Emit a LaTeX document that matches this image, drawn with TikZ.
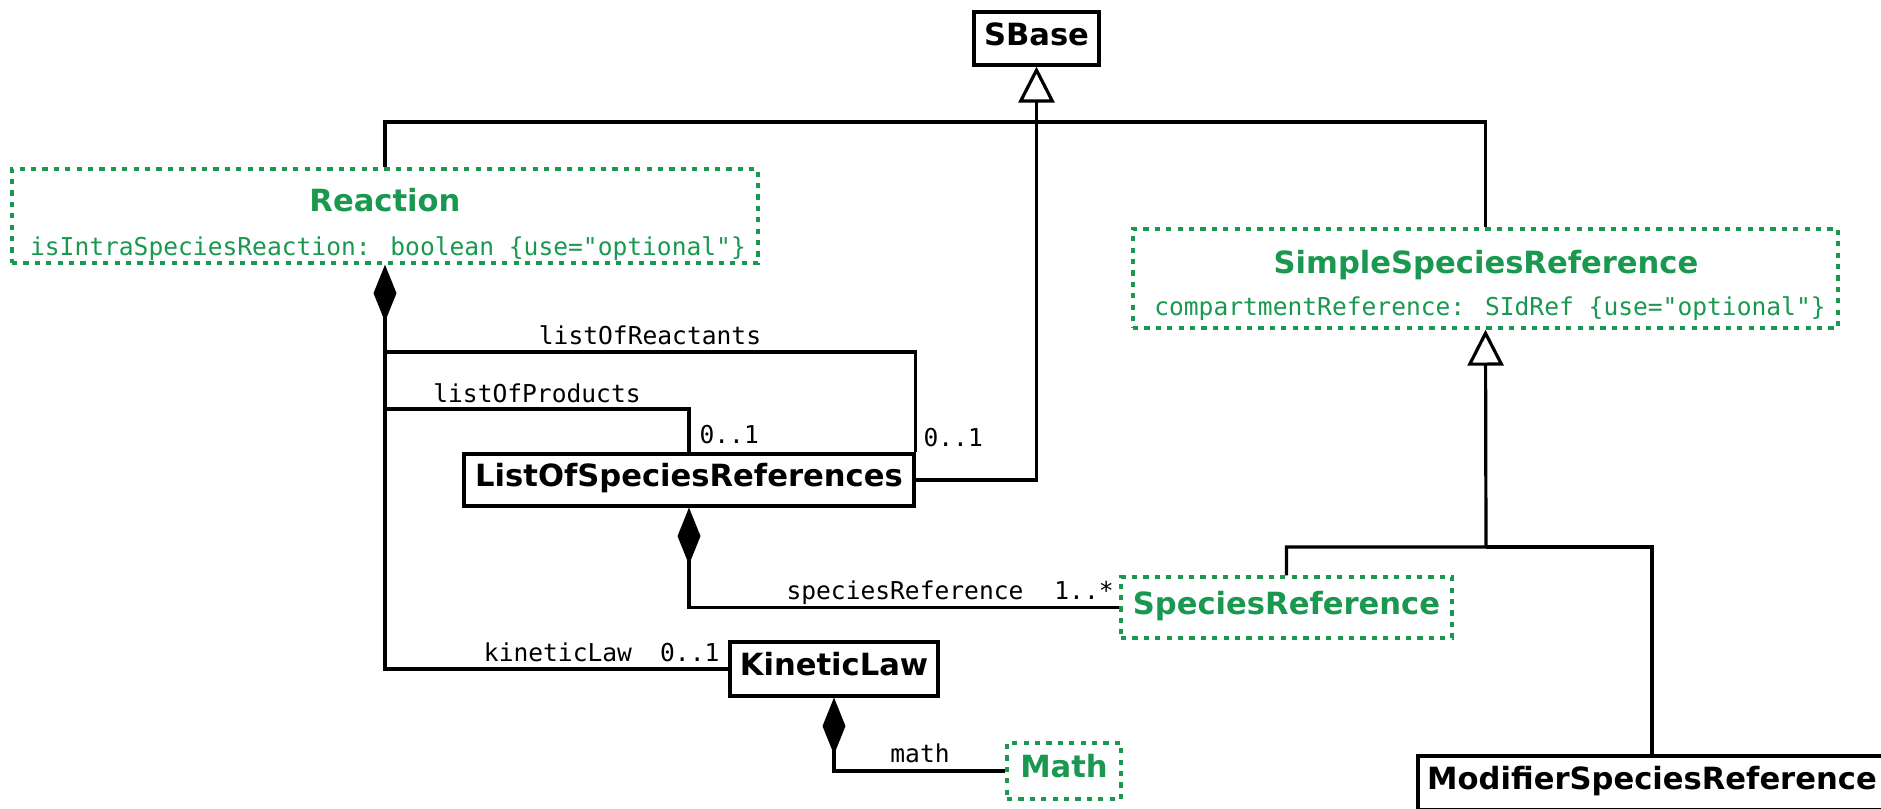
\documentclass[tikz,border=0pt]{standalone}
\usepackage{fontspec}
\setmainfont{DejaVu Sans}
\newfontfamily\umlmono{DejaVu Sans Mono}[Ligatures=TeXOff]
\usetikzlibrary{arrows.meta}
\definecolor{sbmlgreen}{RGB}{26,152,80}
\begin{document}
\begin{tikzpicture}[x=0.5pt,y=-0.5pt,
  line width=1.6pt,
  box/.style={draw=black, line width=1.6pt, fill=white, inner sep=0pt,
    font=\fontsize{15.3pt}{18pt}\selectfont\bfseries, text height=0.65em, text depth=0pt},
  gbox/.style={box, draw=sbmlgreen, text=sbmlgreen, line width=1.7pt, dash pattern=on 2.6pt off 3.1pt},
  ctitle/.style={anchor=base, inner sep=0pt, text=sbmlgreen,
    font=\fontsize{15.3pt}{18pt}\selectfont\bfseries},
  cattr/.style={anchor=base, inner sep=0pt, text=sbmlgreen,
    font=\umlmono\fontsize{12.3pt}{14pt}\selectfont},
  rolelbl/.style={anchor=base, inner sep=0pt, font=\umlmono\fontsize{12.3pt}{14pt}\selectfont},
  gen/.style={-{Triangle[open, length=18pt, width=18pt, fill=white]}},
  comp/.style={{Diamond[length=28.5pt, width=11.5pt]}-},
]
\fill[white] (0,0) rectangle (1881,809);
\useasboundingbox (0,0) rectangle (1881,809);

% classes
\node[box, minimum width=62.5pt, minimum height=26.5pt] (sbase) at (1036.5,38.5) {SBase};

\node[gbox, minimum width=373pt, minimum height=47pt] (reaction) at (385,216) {};
\node[ctitle] (reactionname) at (385,211) {Reaction};
\node[cattr] (reactionattr) at (388,255) {isIntraSpeciesReaction: boolean \{use="optional"\}};

\node[gbox, minimum width=352.5pt, minimum height=49.5pt] (ssr) at (1485.5,278.5) {};
\node[ctitle] (ssrname) at (1486,273) {SimpleSpeciesReference};
\node[cattr] (ssrattr) at (1490,315) {compartmentReference: SIdRef \{use="optional"\}};

\node[box, minimum width=225pt, minimum height=26pt] (losr) at (689,480) {ListOfSpeciesReferences};
\node[gbox, minimum width=165.5pt, minimum height=30.5pt] (sr) at (1286.5,607.5) {SpeciesReference};
\node[box, minimum width=104pt, minimum height=27pt] (kl) at (834,669) {KineticLaw};
\node[gbox, minimum width=57pt, minimum height=28pt] (math) at (1064,771) {Math};
\node[box, minimum width=234pt, minimum height=27pt] (msr) at (1652,783) {ModifierSpeciesReference};

% junction points
\coordinate (gtop) at (1036.5,122);
\coordinate (rj) at (385,352);
\coordinate (pj) at (385,409);
\coordinate (gjoin) at (1486,547);

% inheritance
\draw[gen] (losr.east) -| (sbase.south);
\draw (reaction.north) |- (gtop) -| (ssr.north);
\draw[gen] (sr.north) |- (gjoin) -- (ssr.south);
\draw (msr.north) |- (gjoin);

% composition
\draw[comp] (reaction.south) |- (kl.west);
\draw (rj) -| (losr.north east);
\draw (pj) -| (losr.north);
\draw[comp] (losr.south) |- (sr.west);
\draw[comp] (kl.south) |- (math.west);

% role names and multiplicities
\node[rolelbl] (reactlbl) at (650,344) {listOfReactants};
\node[rolelbl, anchor=base west] (reactmul) at (922,446) {0..1};
\node[rolelbl] (prodlbl) at (537,402) {listOfProducts};
\node[rolelbl, anchor=base west] (prodmul) at (698,443) {0..1};
\node[rolelbl] (srlbl) at (905,599) {speciesReference};
\node[rolelbl] (srmul) at (1084,599) {1..*};
\node[rolelbl] (kllbl) at (558,661) {kineticLaw};
\node[rolelbl, anchor=base east] (klmul) at (721,661) {0..1};
\node[rolelbl] (mathlbl) at (920,762) {math};
\end{tikzpicture}
\end{document}
